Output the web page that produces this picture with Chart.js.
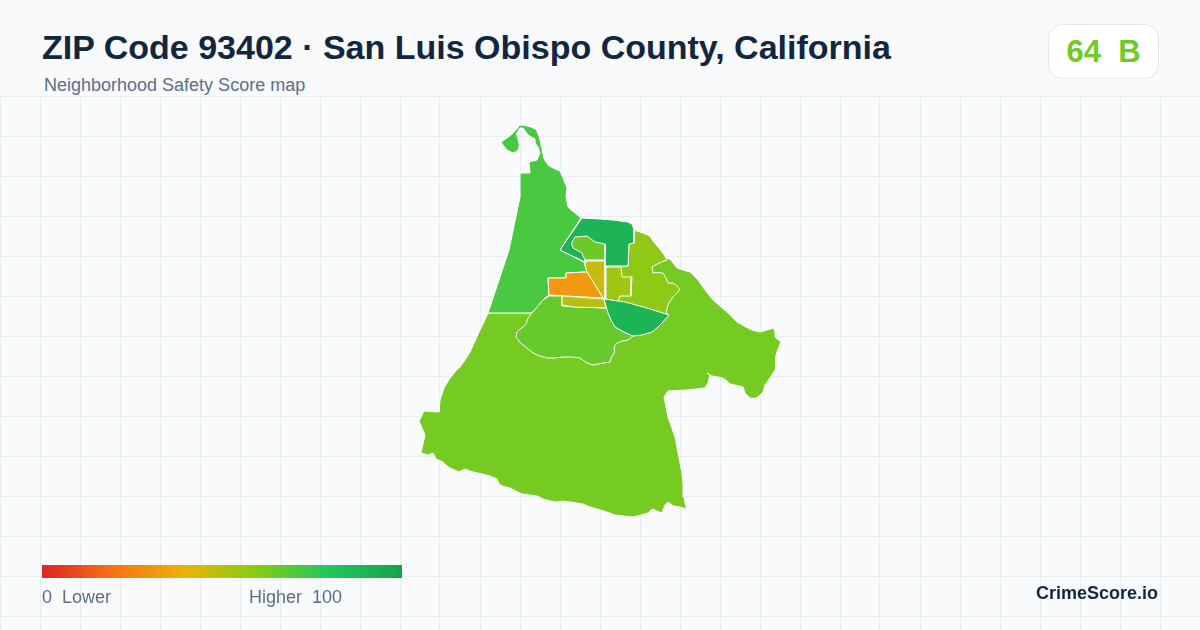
<!DOCTYPE html>
<html>
<head>
<meta charset="utf-8">
<title>ZIP Code 93402</title>
<script src="https://cdn.jsdelivr.net/npm/chart.js@4/dist/chart.umd.min.js"></script>
<style>
    html, body { margin: 0; padding: 0; width: 1200px; height: 630px; overflow: hidden; background: #f8fafc; font-family: "Liberation Sans", Arial, sans-serif; }
    #wrap { position: absolute; left: 0; top: 96px; width: 1200px; height: 534px; }
    #title { position: absolute; left: 42px; top: 27px; font-size: 34px; line-height: 40px; font-weight: 700; color: #12263f; white-space: nowrap; }
    #subtitle { position: absolute; left: 44px; top: 75px; font-size: 18px; line-height: 20px; color: #5a6f8c; white-space: nowrap; }
    #badge { position: absolute; left: 1048px; top: 24px; width: 109px; height: 53px; background: #fff; border: 1px solid #e2e8f0; border-radius: 14px; text-align: center; font-size: 31px; line-height: 53px; font-weight: 700; white-space: pre; }
    #ramp { position: absolute; left: 42px; top: 565px; width: 360px; height: 13px; }
    .rampLabel { position: absolute; top: 587px; font-size: 18px; line-height: 20px; color: #5a6f8c; white-space: pre; }
    #brand { position: absolute; right: 42px; top: 582px; font-size: 18px; line-height: 22px; font-weight: 700; color: #12263f; }
</style>
</head>
<body>
<div id="wrap"><canvas id="mapChart"></canvas></div>
<div id="title"></div>
<div id="subtitle"></div>
<div id="badge"></div>
<div id="ramp"></div>
<div class="rampLabel" style="left:42px">0  Lower</div>
<div class="rampLabel" style="left:249px">Higher  100</div>
<div id="brand">CrimeScore.io</div>
<script>
const titleText = 'ZIP Code 93402 · San Luis Obispo County, California';
const subtitleText = 'Neighborhood Safety Score map';
const overallScore = 64;
const overallGrade = 'B';

const rampStops = [0, 20, 40, 60, 80, 100];
const rampColors = ['#dc2626', '#f97316', '#eab308', '#84cc16', '#22c55e', '#16a34a'];

const gridX = [0, 40, 80, 120, 160, 200, 240, 280, 320, 360, 400, 440, 480, 520, 560, 600, 640, 680, 720, 760, 800, 840, 880, 920, 960, 1000, 1040, 1080, 1120, 1160, 1200];
const gridY = [96, 136, 176, 216, 256, 296, 336, 376, 416, 456, 496, 536, 576, 616];

// tract outlines, back to front
const southShape = [[488,313],[484,322],[480,330],[475,341],[470,352],[465,360],[460,367],[455,372],[450,378],[447,383],[444,388],[442,394],[440,400],[439,412],[431,411.5],[424,411],[419,421],[422,428],[425,435],[423,444],[421,453],[428,455],[433,453],[436,459],[443,462],[447,466],[450,468],[459,472],[465,469],[473,472],[482,474],[490,476],[497,479],[499,484],[502,486],[510,488],[516,491],[522,494],[530,495],[537,496],[543,499],[550,501],[557,502],[563,501],[570,502],[577,503],[583,504],[590,507],[597,509],[604,511],[615,515],[624,516],[633,517],[641,515],[648,513],[652,509],[657,511],[662,513],[665,505],[668,502],[673,506],[680,507],[687,509],[685,503],[684,497],[683,485],[682,473],[679,458],[675,437],[668,417],[664,397],[668,391],[677,390.5],[687,390],[696,389],[705,388],[708,383],[710,375],[707,373],[712,376],[718,377],[723,378],[727,381],[730,384],[737,385.5],[743,387],[745,393],[750,398],[755,398.5],[758,397],[763,392],[765,385],[770,378],[775,370],[776,363],[775,357],[778,349],[781,342],[775,337],[775,332],[774,328],[767,330],[760,332],[752,330],[744,326],[737,322],[732,317],[727,312],[720,306],[713,300],[705,290],[698,280],[690,272],[683,270],[677,268],[670,259],[645,255],[610,280],[549,296],[530,313],[488,313]];
const northwestShape = [[501,142],[507,138],[512,134],[517,129],[519.5,125],[525,125.5],[531,127],[535,129],[537,131],[538.5,135],[540,140],[541,145],[542,149],[543,153],[543.5,158],[548,165],[553,168],[560,171],[563,178],[565,183],[567,188],[566,197],[567,202],[568,207],[571,210],[575,213],[581,218],[560,250],[584,262],[587,272],[585,272],[566,273],[566,278],[548,278],[549,295],[545,298],[533,312],[530,313],[488,313],[509,250],[520,197],[520,173],[530,173],[529,162],[537,160],[540,153],[538,147],[535,143],[535,139],[528,135],[523,128],[520,128],[518,131],[516.5,134],[518,139],[519.5,145],[517.5,151],[513,153],[507,150],[503,145],[501,142]];
const eastShape = [[634,230],[643,233],[650,236],[653,241],[658,247],[663,253],[667,260],[659,263],[652,267],[653,273],[658,272.5],[663,273],[666,278],[668,283],[673,283],[677,286],[680,289],[677,293],[673,297],[670,301],[668,305],[666,313],[669,315],[650,310],[630,305],[605,299],[606,266],[628,266],[629,244],[634,243],[634,230]];
const centerShape = [[606,267],[621,267],[622,277],[632,277],[631,296],[620,296],[618,302],[606,299],[606,267]];
const midShape = [[549,296],[562,296],[562,306],[585,307],[604,308],[607,308],[611,318],[615,327],[624,332],[633,336],[628,340],[622,341],[617,343],[614,347],[614.5,352],[611,358],[610,362],[601,363.5],[593,365],[587,363],[580,358],[572,357],[563,357],[555,358],[547,358],[540,356],[533,353],[528,349],[523,345],[519,341],[516,337],[517,332],[520,329],[523,327],[526,324],[528,318],[532,313],[537,307],[543,300],[549,296]];
const northShape = [[582,218],[600,219],[613,220],[628,222],[632,224],[634,230],[634,243],[629,244],[628,266],[605,266],[605,260],[585,260],[584,262],[583,261],[560,250],[582,218]];
const innerShape = [[575,237],[587,236],[595,242],[605,244],[605,260],[585,260],[583,256],[582,253],[573,248],[571.5,243],[575,237]];
const yellowShape = [[586,261],[605,261],[605,298],[603,298],[587,272],[585,265],[586,261]];
const oliveShape = [[562,296],[604,299],[606,308],[573,307],[562,305],[562,296]];
const orangeShape = [[548,278],[566,278],[566,273],[585,272],[587,272],[603,298],[549,295],[548,278]];
const lakeShape = [[604,299],[625,302],[647,308],[669,315],[662,323],[657,328],[652,332],[642,335],[633,336],[624,332],[615,327],[611,320],[608,313],[604,299]];

const regionShapes = [southShape, northwestShape, eastShape, centerShape, midShape, northShape, innerShape, yellowShape, oliveShape, orangeShape, lakeShape];
const regionScores = [63, 72, 58, 55, 66, 90, 65, 47, 50, 32, 90];

function hexToRgb(hex) {
    return [1, 3, 5].map(i => parseInt(hex.slice(i, i + 2), 16));
}

function scoreColor(score) {
    let i = 0;
    while (i < rampStops.length - 2 && score > rampStops[i + 1]) {
        i++;
    }
    const t = (score - rampStops[i]) / (rampStops[i + 1] - rampStops[i]);
    const a = hexToRgb(rampColors[i]);
    const b = hexToRgb(rampColors[i + 1]);
    return 'rgb(' + a.map((v, k) => Math.round(v + (b[k] - v) * t)).join(',') + ')';
}

document.getElementById('title').textContent = titleText;
document.getElementById('subtitle').textContent = subtitleText;
const badge = document.getElementById('badge');
badge.textContent = overallScore + '  ' + overallGrade;
badge.style.color = scoreColor(overallScore);
document.getElementById('ramp').style.background = 'linear-gradient(to right, ' + rampColors.map((c, i) => c + ' ' + rampStops[i] + '%').join(', ') + ')';

new Chart(document.getElementById('mapChart'), {
    type: 'scatter',
    data: {
        datasets: regionShapes.map((shape, i) => ({
            data: shape.map(p => ({ x: p[0], y: p[1] })),
            showLine: true,
            fill: 'shape',
            tension: 0,
            pointRadius: 0,
            borderColor: '#ffffff',
            borderWidth: 1,
            borderJoinStyle: 'round',
            backgroundColor: scoreColor(regionScores[i]),
            order: regionShapes.length - i,
        })),
    },
    options: {
        responsive: true,
        maintainAspectRatio: false,
        animation: false,
        events: [],
        layout: { padding: 0 },
        plugins: {
            legend: { display: false },
            tooltip: { enabled: false },
        },
        scales: {
            x: {
                type: 'linear',
                min: 0,
                max: 1200,
                afterBuildTicks: axis => { axis.ticks = gridX.map(value => ({ value })); },
                grid: { color: '#e6eef2', lineWidth: 1, drawTicks: false },
                border: { display: false },
                ticks: { display: false },
            },
            y: {
                type: 'linear',
                reverse: true,
                min: 96,
                max: 630,
                afterBuildTicks: axis => { axis.ticks = gridY.map(value => ({ value })); },
                grid: { color: '#e6eef2', lineWidth: 1, drawTicks: false },
                border: { display: false },
                ticks: { display: false },
            },
        },
    },
});
</script>
</body>
</html>
